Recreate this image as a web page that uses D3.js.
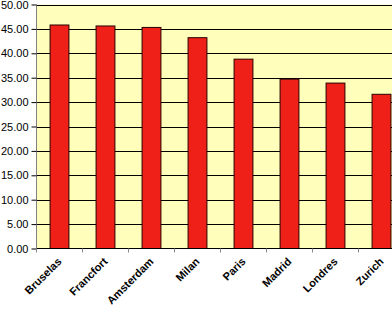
<!DOCTYPE html>
<html>
<head>
<meta charset="utf-8">
<script src="https://cdn.jsdelivr.net/npm/d3@7"></script>
<style>
  body { margin: 0; background: #fff; }
  svg { display: block; }
  .axis text { font-family: "Liberation Sans", Arial, sans-serif; fill: #000; }
</style>
</head>
<body>
<div id="chart"></div>
<script>
// data
let cities = ["Bruselas", "Francfort", "Amsterdam", "Milan", "Paris", "Madrid", "Londres", "Zurich"];
let values = [45.8, 45.6, 45.3, 43.2, 38.8, 34.7, 33.9, 31.6];
let yTicks = [0, 5, 10, 15, 20, 25, 30, 35, 40, 45, 50];

let W = 392, H = 311;
let margin = {top: 4.5, left: 36.5, bottom: 62.5};
let plotRight = 404.5;   // plot runs past the window edge
let plotH = H - margin.top - margin.bottom;

let svg = d3.select("#chart").append("svg")
    .attr("width", W)
    .attr("height", H);

let x = d3.scaleBand()
    .domain(cities)
    .range([margin.left, plotRight])
    .paddingInner(0)
    .paddingOuter(0);

let y = d3.scaleLinear()
    .domain([0, 50])
    .range([margin.top + plotH, margin.top]);

// plot background
svg.append("rect")
    .attr("x", margin.left)
    .attr("y", y(50))
    .attr("width", plotRight - margin.left)
    .attr("height", y(0) - y(50))
    .attr("fill", "#ffffbb");

// gridlines
svg.append("g")
    .selectAll("line")
    .data(yTicks.filter(d => d > 0))
    .join("line")
    .attr("x1", margin.left)
    .attr("x2", plotRight)
    .attr("y1", d => Math.round(y(d)) + 0.5)
    .attr("y2", d => Math.round(y(d)) + 0.5)
    .attr("stroke", "#000")
    .attr("stroke-width", 1);

// bars
let barW = x.bandwidth() * 0.41;
svg.append("g")
    .selectAll("rect")
    .data(cities)
    .join("rect")
    .attr("x", (d) => x(d) + (x.bandwidth() - barW) / 2)
    .attr("y", (d, i) => y(values[i]))
    .attr("width", barW)
    .attr("height", (d, i) => y(0) - y(values[i]))
    .attr("fill", "#ee2017")
    .attr("stroke", "#2a0000")
    .attr("stroke-width", 1);

// y axis
let yAxis = d3.axisLeft(y)
    .tickValues(yTicks)
    .tickFormat(d3.format(".2f"))
    .tickSize(5)
    .tickPadding(3);

svg.append("g")
    .attr("class", "axis y-axis")
    .attr("transform", `translate(${margin.left}, 0)`)
    .call(yAxis)
    .call(g => g.selectAll("text").attr("font-size", 11))
    .call(g => g.select(".domain").attr("stroke", "#808080").attr("d", `M0,${y(50)}V${y(0)}`))
    .call(g => g.selectAll(".tick line").attr("stroke", "#000"));

// x axis: ticks sit between the categories
let xAxisG = svg.append("g")
    .attr("class", "axis x-axis")
    .attr("transform", `translate(0, ${y(0)})`);

xAxisG.append("line")
    .attr("x1", margin.left)
    .attr("x2", plotRight)
    .attr("y1", 0)
    .attr("y2", 0)
    .attr("stroke", "#000");

xAxisG.selectAll(".sep")
    .data(cities)
    .join("line")
    .attr("class", "sep")
    .attr("x1", d => x(d))
    .attr("x2", d => x(d))
    .attr("y1", 0)
    .attr("y2", 4)
    .attr("stroke", "#888");

xAxisG.selectAll("text")
    .data(cities)
    .join("text")
    .attr("transform", d => `translate(${x(d) + x.bandwidth() / 2}, 11) rotate(-45)`)
    .attr("text-anchor", "end")
    .attr("dy", "0.35em")
    .attr("font-size", 11)
    .attr("font-weight", "bold")
    .text(d => d);
</script>
</body>
</html>
